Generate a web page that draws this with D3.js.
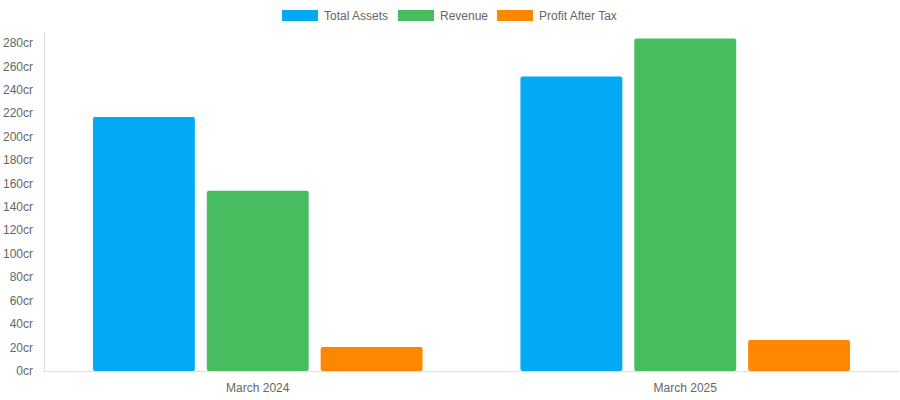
<!DOCTYPE html>
<html>
<head>
<meta charset="utf-8">
<script src="https://cdn.jsdelivr.net/npm/d3@7"></script>
<style>
  body { margin: 0; background: #fff; }
  svg { font-family: "Liberation Sans", Arial, Helvetica, sans-serif; }
</style>
</head>
<body>
<svg id="chart" width="900" height="400"></svg>
<script>
// data
const periods = ["March 2024", "March 2025"];
const seriesNames = ["Total Assets", "Revenue", "Profit After Tax"];
const totalAssets = [217, 251.5];
const revenue = [154, 284];
const profitAfterTax = [20.5, 26.5];
const yTicks = [0, 20, 40, 60, 80, 100, 120, 140, 160, 180, 200, 220, 240, 260, 280];
const colors = ["#03a9f4", "#48bd5f", "#ff8600"];

const svg = d3.select("#chart");
const margin = {top: 32, right: 1, bottom: 29, left: 44};
const width = 900, height = 400;

const values = [totalAssets, revenue, profitAfterTax];

let x0 = d3.scaleBand()
  .domain(periods)
  .range([margin.left, width - margin.right])
  .paddingInner(0)
  .paddingOuter(0);

let x1 = d3.scaleBand()
  .domain(seriesNames)
  .range([0, x0.bandwidth()])
  .paddingInner(0.105)
  .paddingOuter(0.43);

let y = d3.scaleLinear()
  .domain([0, 289.5])
  .range([height - margin.bottom, margin.top]);

// y axis labels
svg.append("g")
  .selectAll("text")
  .data(yTicks)
  .join("text")
  .attr("x", 33)
  .attr("y", d => y(d) + 4)
  .attr("text-anchor", "end")
  .attr("fill", "#666")
  .style("font-size", "12px")
  .text(d => d + "cr");

// axis lines
svg.append("line")
  .attr("x1", margin.left + 0.5).attr("x2", margin.left + 0.5)
  .attr("y1", margin.top).attr("y2", y(0))
  .attr("stroke", "#e0e0e0");

// bars
let groups = svg.append("g")
  .selectAll("g")
  .data(periods)
  .join("g")
  .attr("transform", d => `translate(${x0(d)},0)`);

groups.selectAll("rect")
  .data((p, i) => seriesNames.map((s, j) => ({series: s, value: values[j][i], color: colors[j]})))
  .join("rect")
  .attr("x", d => x1(d.series))
  .attr("width", x1.bandwidth())
  .attr("y", d => y(d.value))
  .attr("height", d => y(0) - y(d.value))
  .attr("rx", 2)
  .attr("fill", d => d.color);

svg.append("line")
  .attr("x1", margin.left).attr("x2", width - margin.right)
  .attr("y1", y(0) + 0.5).attr("y2", y(0) + 0.5)
  .attr("stroke", "#e0e0e0");

// x labels
svg.append("g")
  .selectAll("text")
  .data(periods)
  .join("text")
  .attr("x", d => x0(d) + x0.bandwidth() / 2)
  .attr("y", 392)
  .attr("text-anchor", "middle")
  .attr("fill", "#666")
  .style("font-size", "12px")
  .text(d => d);

// legend
const legendX = [282, 398, 497];
let legend = svg.append("g")
  .selectAll("g")
  .data(seriesNames)
  .join("g")
  .attr("transform", (d, i) => `translate(${legendX[i]},10)`);

legend.append("rect")
  .attr("width", 36)
  .attr("height", 11)
  .attr("fill", (d, i) => colors[i]);

legend.append("text")
  .attr("x", 42)
  .attr("y", 10)
  .attr("fill", "#666")
  .style("font-size", "12px")
  .text(d => d);
</script>
</body>
</html>
